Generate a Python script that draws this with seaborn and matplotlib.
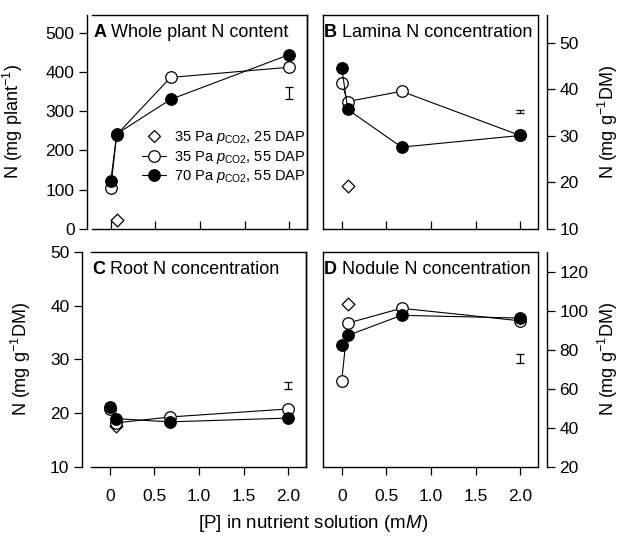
import matplotlib
matplotlib.use("Agg")
import matplotlib.pyplot as plt
import seaborn as sns
import pandas as pd
import numpy as np

sns.set_theme(style="ticks")
plt.rcParams['font.family'] = ['Liberation Sans', 'DejaVu Sans']
plt.rcParams['mathtext.fontset'] = 'custom'
plt.rcParams['mathtext.rm'] = 'Liberation Sans'
plt.rcParams['mathtext.it'] = 'Liberation Sans:italic'
for k in ['text.color', 'axes.labelcolor', 'xtick.color', 'ytick.color', 'axes.edgecolor']:
    plt.rcParams[k] = 'black'

# ---- data ----
p_conc = [0, 0.067, 0.67, 2.0]
p_diamond = [0.067]

# A: whole plant N content (mg plant-1)
A_open = [104, 240, 386, 412]
A_filled = [121, 242, 330, 444]
A_diamond = [22]
A_err = (346, 15)

# B: lamina N concentration
B_open = [41.3, 37.4, 39.6, 30.1]
B_filled = [44.7, 35.7, 27.6, 30.1]
B_diamond = [19.2]
B_err = (35.25, 0.35)

# C: root N concentration
C_open = [20.8, 18.2, 19.3, 20.8]
C_filled = [21.2, 19.0, 18.4, 19.1]
C_diamond = [17.7]
C_err = (25.2, 0.6)

# D: nodule N concentration
D_open = [64.2, 93.6, 101.2, 94.8]
D_filled = [82.6, 87.3, 97.6, 96.2]
D_diamond = [103.5]
D_err = (75.4, 2.3)

titles = ["Whole plant N content", "Lamina N concentration",
          "Root N concentration", "Nodule N concentration"]
letters = ["A", "B", "C", "D"]
ylabels = ["N (mg plant$^{-1}$)", "N (mg g$^{-1}$DM)", "N (mg g$^{-1}$DM)", "N (mg g$^{-1}$DM)"]
yticks = [[0, 100, 200, 300, 400, 500], [10, 20, 30, 40, 50],
          [10, 20, 30, 40, 50], [20, 40, 60, 80, 100, 120]]
ylims = [(0, 545), (10, 56), (10, 50), (20, 130)]
xticks = [0, 0.5, 1.0, 1.5, 2.0]
xticklabels = ["0", "0.5", "1.0", "1.5", "2.0"]
legend_labels = ["35 Pa $p_{\\mathrm{CO2}}$, 25 DAP",
                 "35 Pa $p_{\\mathrm{CO2}}$, 55 DAP",
                 "70 Pa $p_{\\mathrm{CO2}}$, 55 DAP"]

panels = [(A_open, A_filled, A_diamond, A_err),
          (B_open, B_filled, B_diamond, B_err),
          (C_open, C_filled, C_diamond, C_err),
          (D_open, D_filled, D_diamond, D_err)]

W, H = 626, 536
fig = plt.figure(figsize=(W / 100, H / 100), dpi=100)
fig.patch.set_facecolor("white")

boxes = [(92, 15, 307, 229), (323, 15, 538, 229),
         (91, 252, 306, 467), (323, 252, 538, 467)]

FS = 12.5
TFS = 13
lw = 0.8
ms = 8.3

for i, (ax_box, (op, fi, di, er)) in enumerate(zip(boxes, panels)):
    l, t, r, b = ax_box
    ax = fig.add_axes([l / W, (H - b) / H, (r - l) / W, (b - t) / H])
    ax.set_facecolor("white")
    df_o = pd.DataFrame({"P": p_conc, "N": op})
    df_f = pd.DataFrame({"P": p_conc, "N": fi})
    df_d = pd.DataFrame({"P": p_diamond, "N": di})

    sns.scatterplot(data=df_d, x="P", y="N", marker="D", s=42, facecolor="white",
                    edgecolor="black", linewidth=0.9, ax=ax, zorder=3)
    sns.lineplot(data=df_o, x="P", y="N", color="black", lw=lw, marker="o",
                 markersize=ms, markerfacecolor="white", markeredgecolor="black",
                 markeredgewidth=0.9, ax=ax, zorder=4)
    sns.lineplot(data=df_f, x="P", y="N", color="black", lw=lw, marker="o",
                 markersize=ms, markerfacecolor="black", markeredgecolor="black",
                 markeredgewidth=0.9, ax=ax, zorder=5)
    ax.errorbar([2.0], [er[0]], yerr=[er[1]], fmt="none", ecolor="black",
                elinewidth=0.9, capsize=3, capthick=0.9, zorder=6)

    ax.set_xlim(-0.21, 2.2)
    ax.set_ylim(*ylims[i])
    ax.set_xticks(xticks)
    ax.set_yticks(yticks[i])
    ax.set_xlabel("")
    ax.set_ylabel("")

    for s in ax.spines.values():
        s.set_color("black")
        s.set_linewidth(1.0)

    right = i in (1, 3)
    top_row = i in (0, 1)
    if right:
        ax.yaxis.tick_right()
        ax.yaxis.set_label_position("right")
        ax.spines["right"].set_position(("outward", 6.5))
        ax.plot([1, 1], [0, 1], transform=ax.transAxes, color="black",
                lw=1.0, clip_on=False, zorder=10)
        ax.set_ylabel(ylabels[i], fontsize=TFS)
        ax.yaxis.set_label_coords(1.27, 0.5)
        ax.yaxis.label.set_verticalalignment("top")
    else:
        off = 3.6 if i == 0 else 6.5
        ax.spines["left"].set_position(("outward", off))
        ax.plot([1, 1], [0, 1], transform=ax.transAxes, color="black",
                lw=1.0, clip_on=False, zorder=10)
        ax.set_ylabel(ylabels[i], fontsize=TFS)
        ax.yaxis.set_label_coords(-0.31 if i == 0 else -0.27, 0.5)

    ax.tick_params(axis="y", direction="out", length=6, width=0.9,
                   labelsize=FS, pad=3, colors="black")
    if top_row:
        ax.tick_params(axis="x", direction="in", length=6, width=0.9,
                       labelbottom=False)
    else:
        ax.tick_params(axis="x", direction="out", length=6, width=0.9,
                       labelsize=FS, pad=10, colors="black")
        ax.set_xticklabels(xticklabels)

    # panel title
    tt = ax.text(0.005, 0.96, letters[i], transform=ax.transAxes, fontsize=TFS,
                 fontweight="bold", ha="left", va="top", color="black")
    ax.annotate(" " + titles[i], xy=(1, 0), xycoords=tt, ha="left", va="bottom",
                fontsize=TFS, color="black")

    if i == 0:
        handles = [
            plt.Line2D([], [], ls="none", marker="D", ms=6.3, mfc="white", mec="black", mew=0.9),
            plt.Line2D([], [], color="black", lw=lw, marker="o", ms=ms, mfc="white", mec="black", mew=0.9),
            plt.Line2D([], [], color="black", lw=lw, marker="o", ms=ms, mfc="black", mec="black", mew=0.9),
        ]
        ax.legend(handles, legend_labels, loc="upper right", bbox_to_anchor=(0.995, 0.465),
                  frameon=False, fontsize=10.5, handlelength=1.6, handletextpad=0.6,
                  labelspacing=0.15, borderpad=0.0, borderaxespad=0.0)

fig.text(313 / W, (H - 523) / H, "[P] in nutrient solution (m$\\mathit{M}$)",
         ha="center", va="center", fontsize=13.5, color="black")

fig.savefig("out.png", dpi=100, facecolor="white")
